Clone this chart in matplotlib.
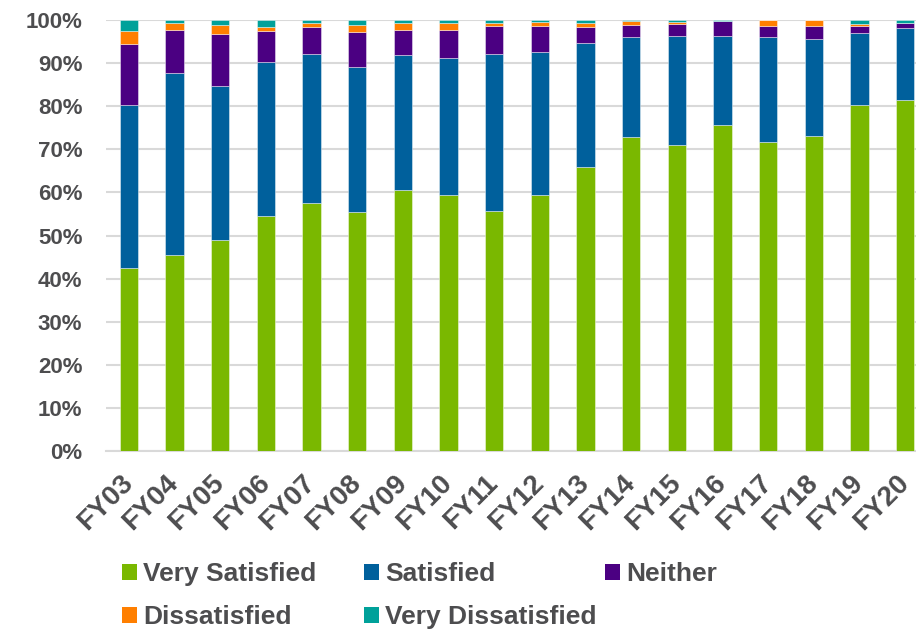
import matplotlib
matplotlib.use("Agg")
import matplotlib.pyplot as plt
import numpy as np
from matplotlib.ticker import PercentFormatter
from matplotlib.patches import Patch

years = ["FY03", "FY04", "FY05", "FY06", "FY07", "FY08", "FY09", "FY10", "FY11",
         "FY12", "FY13", "FY14", "FY15", "FY16", "FY17", "FY18", "FY19", "FY20"]

# cumulative tops (percent)
very_satisfied = [42.5, 45.5, 49.0, 54.5, 57.5, 55.5, 60.5, 59.4, 55.7,
                  59.4, 65.9, 72.9, 71.0, 75.6, 71.7, 73.1, 80.3, 81.4]
satisfied_top = [80.2, 87.7, 84.6, 90.2, 92.0, 89.0, 91.8, 91.2, 92.0,
                 92.5, 94.7, 96.1, 96.4, 96.3, 96.1, 95.5, 97.0, 98.1]
neither_top = [94.5, 97.7, 96.7, 97.4, 98.4, 97.3, 97.6, 97.7, 98.7,
               98.7, 98.4, 98.9, 99.0, 99.7, 98.7, 98.6, 98.6, 99.2]
dissatisfied_top = [97.4, 99.3, 98.9, 98.3, 99.2, 98.9, 99.2, 99.4, 99.4,
                    99.6, 99.2, 99.8, 99.5, 99.8, 100.0, 100.0, 99.1, 99.3]

vs = np.array(very_satisfied)
s = np.array(satisfied_top) - vs
n = np.array(neither_top) - np.array(satisfied_top)
d = np.array(dissatisfied_top) - np.array(neither_top)
vd = 100.0 - np.array(dissatisfied_top)

series_names = ["Very Satisfied", "Satisfied", "Neither", "Dissatisfied", "Very Dissatisfied"]
colors = ["#7AB800", "#00609C", "#4B0082", "#FF7F00", "#00A19A"]
text_color = "#4D4D4F"

plt.rcParams['font.family'] = ['Liberation Sans', 'DejaVu Sans']
plt.rcParams['font.weight'] = 'bold'

fig = plt.figure(figsize=(9.16, 6.30), dpi=100)
ax = fig.add_axes([106/916, (630-451)/630, 1 - 106/916, (451-20)/630])

x = np.arange(len(years))
bottom = np.zeros(len(years))
for vals, name, c in zip([vs, s, n, d, vd], series_names, colors):
    ax.bar(x, vals / 100.0, 0.4, bottom=bottom, color=c, label=name,
           edgecolor=(1, 1, 1, 0.5), linewidth=0.6, zorder=3)
    bottom += vals / 100.0

ax.set_xlim(-0.5, 17.24)
ax.set_ylim(0, 1.0)
ax.set_yticks(np.arange(0, 1.01, 0.1))
ax.yaxis.set_major_formatter(PercentFormatter(1.0, decimals=0))
ax.grid(axis='y', color='#D9D9D9', linewidth=1.5, zorder=0)
ax.set_axisbelow(True)
for sp in ['left', 'right', 'top']:
    ax.spines[sp].set_visible(False)
ax.spines['bottom'].set_color('#D9D9D9')
ax.spines['bottom'].set_linewidth(1.5)
ax.tick_params(axis='both', length=0, labelcolor=text_color)
ax.tick_params(axis='y', pad=17, labelsize=16)
ax.set_xticks(x)
ax.set_xticklabels(years, rotation=45, ha='right', rotation_mode='anchor', va='center')
ax.tick_params(axis='x', pad=20, labelsize=20)

handles = [Patch(facecolor=c) for c in colors]
# legend laid out as three columns: (VS, D), (S, VD), (Neither)
columns = [([0, 3], 122), ([1, 4], 364), ([2], 605)]
for idx, xpix in columns:
    leg = fig.legend([handles[i] for i in idx], [series_names[i] for i in idx],
                     ncol=1, loc='upper left', bbox_to_anchor=(xpix/916, 1 - 562/630),
                     frameon=False, fontsize=19, handlelength=0.55, handleheight=0.55,
                     handletextpad=0.25, labelspacing=0.72,
                     borderpad=0, borderaxespad=0)
    for t in leg.get_texts():
        t.set_color(text_color)

fig.savefig("out.png", dpi=100)
